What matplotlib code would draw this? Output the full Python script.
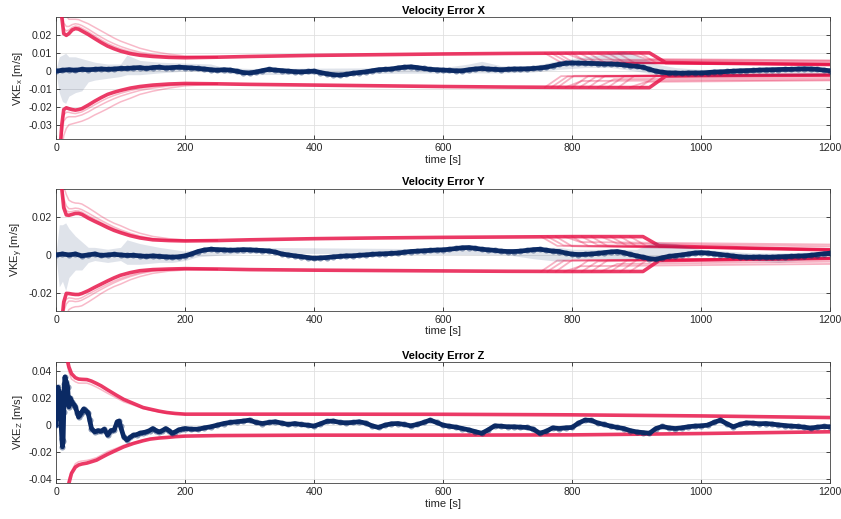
import numpy as np
import matplotlib
matplotlib.use('agg')
import matplotlib.pyplot as plt

plt.rcParams['font.family'] = ['Liberation Sans', 'DejaVu Sans']
plt.rcParams['mathtext.fontset'] = 'custom'
plt.rcParams['mathtext.rm'] = 'Liberation Sans'

NAVY = '#0b2a64'
RED = '#e8174b'

# ---- estimation error (main run trace), 10 s samples ----
t10 = np.arange(0, 1201, 10)

err_x = [0, 0.0005, 0.0008, 0.0005, 0.001, 0.0008, 0.001, 0.0012, 0.001, 0.0012,
         0.0015, 0.0015, 0.0018, 0.002, 0.0015, 0.002, 0.0022, 0.0018, 0.002, 0.0022,
         0.002, 0.0018, 0.0015, 0.0012, 0.0008, 0.0005, 0.0008, 0.0006, 0.0, -0.0008,
         -0.001, -0.0005, 0.0003, 0.001, 0.0006, 0.0003, 0.0, -0.0003, -0.0004, -0.0002,
         0.0, -0.0008, -0.0015, -0.002, -0.0022, -0.0018, -0.0012, -0.0008, -0.0004, 0.0002,
         0.0008, 0.001, 0.0012, 0.0018, 0.0022, 0.0024, 0.002, 0.0015, 0.001, 0.0008,
         0.0006, 0.0004, 0.0002, 0.0002, 0.0008, 0.0012, 0.0015, 0.0012, 0.001, 0.0008,
         0.001, 0.0012, 0.0012, 0.0013, 0.0015, 0.0018, 0.0022, 0.003, 0.0038, 0.0044,
         0.0046, 0.0045, 0.0044, 0.0043, 0.0042, 0.004, 0.004, 0.0038, 0.0035, 0.003,
         0.0027, 0.0022, 0.001, 0.0, -0.0006, -0.001, -0.001, -0.0012, -0.001, -0.001,
         -0.001, -0.0008, -0.0005, -0.0004, -0.0002, 0.0, 0.0002, 0.0003, 0.0004, 0.0006,
         0.0007, 0.0008, 0.0009, 0.001, 0.001, 0.0012, 0.0013, 0.0012, 0.001, 0.0006,
         0.0002]

err_y = [0, 0.0005, 0.0, 0.0005, -0.0005, 0.0, 0.0005, -0.0003, 0.0, 0.0003,
         0.0, -0.0003, -0.0002, -0.0005, -0.0008, -0.0005, -0.0008, -0.001, -0.0012, -0.001,
         -0.0005, 0.0005, 0.0018, 0.0026, 0.003, 0.0028, 0.0027, 0.0025, 0.0026, 0.0028,
         0.0027, 0.0025, 0.0023, 0.0021, 0.0015, 0.0005, 0.0, -0.0005, -0.0009, -0.0014,
         -0.0018, -0.0016, -0.0014, -0.001, -0.0008, -0.0005, -0.0005, -0.0002, 0.0, 0.0003,
         0.0005, 0.0006, 0.0008, 0.001, 0.0014, 0.0018, 0.002, 0.0022, 0.0024, 0.0026,
         0.0027, 0.003, 0.0034, 0.0038, 0.0039, 0.0035, 0.003, 0.0027, 0.0024, 0.002,
         0.0018, 0.0018, 0.002, 0.0024, 0.0028, 0.003, 0.0025, 0.002, 0.0018, 0.001,
         0.0004, 0.0002, 0.0003, 0.0005, 0.0008, 0.0012, 0.0016, 0.0018, 0.0012, 0.0003,
         -0.0005, -0.0012, -0.002, -0.0023, -0.0015, -0.0008, -0.0004, 0.0, 0.0005, 0.001,
         0.0012, 0.001, 0.0006, 0.0002, -0.0002, -0.0006, -0.001, -0.0012, -0.0012, -0.0011,
         -0.0012, -0.0012, -0.001, -0.0009, -0.0008, -0.0006, -0.0005, -0.0002, 0.0002, 0.0006,
         0.0009]

t_z_early = [0, 2, 3, 4, 5, 6, 7, 8, 9, 10, 11, 12, 13, 14, 15, 16, 18, 20, 22, 25,
             28, 30, 33, 35, 38, 40, 43, 45, 48, 50, 52, 55, 60, 65, 70, 75, 80, 85, 90, 95,
             98, 100, 105, 110, 115, 120, 125, 130, 135, 140, 145, 150, 155, 160, 165, 170,
             175, 180, 185, 190, 195]
t_z = np.concatenate([t_z_early, t10[20:]])
err_z = [0, 0.02, 0.028, 0.01, 0.025, 0.005, 0.02, 0.0, -0.01, -0.016,
         -0.012, 0.01, 0.03, 0.0356, 0.03, 0.032, 0.028, 0.0135, 0.02, 0.017,
         0.015, 0.0135, 0.009, 0.006, 0.008, 0.0098, 0.012, 0.011, 0.01, 0.0086,
         0.004, -0.0025, -0.005, -0.004, -0.0045, -0.003, -0.0074, -0.004, -0.0037, 0.0025,
         0.003, -0.001, -0.0086, -0.011, -0.009, -0.0074, -0.007, -0.006, -0.0055, -0.005,
         -0.004, -0.0025, -0.004, -0.005, -0.004, -0.0025, -0.004, -0.006, -0.005, -0.0035,
         -0.003,
         -0.0025, -0.003, -0.003, -0.002, -0.0012, 0.0, 0.0012, 0.002, 0.0025, 0.003,
         0.0037, 0.002, 0.0012, 0.002, 0.0025, 0.0015, 0.0005, 0.0012, 0.0005, 0.0,
         -0.0007, 0.001, 0.0028, 0.003, 0.002, 0.0017, 0.002, 0.0025, 0.0015, -0.0005,
         -0.0017, 0.0, 0.001, 0.0012, 0.0005, -0.0005, 0.0005, 0.002, 0.0037, 0.002,
         0.0, -0.0008, -0.0015, -0.0025, -0.0035, -0.0048, -0.006, -0.0035, -0.0005, -0.0008,
         -0.0012, -0.0012, -0.0015, -0.0017, -0.003, -0.006, -0.0045, -0.002, -0.0025, -0.002,
         -0.0017, 0.0015, 0.0037, 0.0035, 0.0015, 0.0005, -0.0008, -0.0017, -0.0025, -0.004,
         -0.005, -0.0055, -0.006, -0.0025, -0.001, -0.002, -0.0025, -0.002, -0.0012, -0.0007,
         -0.0005, 0.0, 0.002, 0.0037, 0.001, -0.0012, 0.0005, 0.0017, 0.0015, 0.001,
         0.0012, 0.0008, 0.0002, -0.0003, -0.0007, -0.001, -0.0015, -0.0022, -0.0015, -0.001,
         -0.0012]

# ---- spread of the other Monte Carlo runs (faint haze) ----
t_sp_x = [0, 5, 10, 15, 20, 30, 40, 50, 60, 80, 100, 110, 130, 160, 200, 240, 260, 300,
          600, 640, 660, 690, 740, 780, 820, 860, 880, 900, 930, 960, 1000, 1200]
sp_hi_x = [0.001, 0.008, 0.009, 0.01, 0.008, 0.008, 0.007, 0.006, 0.005, 0.004, 0.004,
           0.009, 0.006, 0.005, 0.0045, 0.004, 0.002, 0.0015, 0.002, 0.004, 0.0055, 0.003,
           0.003, 0.006, 0.008, 0.01, 0.011, 0.009, 0.004, 0.002, 0.001, 0.002]
sp_lo_x = [-0.001, -0.012, -0.017, -0.018, -0.014, -0.012, -0.011, -0.006, -0.005, -0.004,
           -0.003, -0.002, -0.002, -0.001, 0.0, -0.0005, -0.001, -0.002, -0.001, -0.001,
           -0.001, -0.001, -0.0005, 0.001, 0.002, 0.002, 0.001, 0.0, -0.002, -0.003, -0.003,
           -0.002]

t_sp_y = [0, 5, 10, 15, 20, 30, 40, 50, 60, 80, 100, 110, 130, 160, 180, 200, 220, 300,
          700, 740, 780, 800, 900, 930, 960, 1000, 1080, 1120, 1200]
sp_hi_y = [0.001, 0.016, 0.016, 0.017, 0.014, 0.01, 0.007, 0.004, 0.004, 0.003, 0.004,
           0.008, 0.006, 0.004, 0.003, 0.002, 0.003, 0.004, 0.003, 0.004, 0.004, 0.003,
           0.003, 0.007, 0.006, 0.003, 0.001, 0.001, 0.002]
sp_lo_y = [-0.001, -0.017, -0.014, -0.019, -0.012, -0.008, -0.008, -0.004, -0.003, -0.004,
           -0.003, -0.005, -0.005, -0.004, -0.004, -0.003, -0.001, 0.001, 0.0, -0.002,
           -0.0035, -0.002, -0.002, -0.003, -0.002, 0.0, -0.003, -0.004, -0.001]

# ---- 3-sigma bounds, main run ----
tb = [0, 3, 6, 9, 12, 16, 20, 25, 30, 35, 40, 50, 60, 70, 80, 90, 100, 115, 130, 150,
      175, 200, 250, 300, 400, 500, 600, 700, 800, 900]
tb_x = tb + [920, 945, 1000, 1100, 1200]
bnd_hi_x = [0.15, 0.08, 0.045, 0.03, 0.021, 0.02, 0.021, 0.023, 0.0238, 0.0235,
            0.0225, 0.0205, 0.0182, 0.016, 0.014, 0.0125, 0.0112, 0.0098, 0.0089, 0.0082,
            0.0077, 0.0075, 0.0078, 0.0082, 0.0088, 0.0092, 0.0096, 0.0099, 0.0101, 0.0102,
            0.0102, 0.0048, 0.0045, 0.0041, 0.0037]
bnd_lo_x = [-0.15, -0.08, -0.045, -0.03, -0.0215, -0.0205, -0.021, -0.0215, -0.0218, -0.0215,
            -0.021, -0.019, -0.0168, -0.0148, -0.013, -0.0118, -0.0108, -0.0095, -0.0086, -0.0078,
            -0.0072, -0.0069, -0.0071, -0.0074, -0.0078, -0.0082, -0.0086, -0.0089, -0.0091, -0.0092,
            -0.0092, -0.0028, -0.0026, -0.0024, -0.0022]

tb_y = tb + [910, 935, 1000, 1100, 1200]
bnd_hi_y = [0.15, 0.08, 0.05, 0.035, 0.025, 0.0212, 0.021, 0.0215, 0.022, 0.022,
            0.0215, 0.0195, 0.0178, 0.0162, 0.0145, 0.013, 0.0118, 0.0102, 0.009, 0.008,
            0.0076, 0.0074, 0.0076, 0.008, 0.0086, 0.009, 0.0093, 0.0095, 0.0097, 0.0097,
            0.0097, 0.0048, 0.0042, 0.0034, 0.0027]
bnd_lo_y = [-0.15, -0.08, -0.05, -0.035, -0.025, -0.0204, -0.0205, -0.0208, -0.021, -0.021,
            -0.0205, -0.019, -0.0172, -0.0155, -0.0138, -0.0122, -0.0108, -0.0094, -0.0084, -0.0078,
            -0.0075, -0.0073, -0.0075, -0.0078, -0.0081, -0.0083, -0.0085, -0.0087, -0.0088, -0.0088,
            -0.0088, -0.003, -0.0027, -0.0023, -0.0019]

tb_z = [0, 6, 12, 16, 20, 24, 30, 35, 40, 48, 55, 63, 70, 80, 94, 105, 120, 135, 146, 160,
        172, 185, 200, 250, 400, 600, 800, 1000, 1200]
bnd_hi_z = [0.2, 0.1, 0.065, 0.052, 0.043, 0.038, 0.035, 0.034, 0.0338, 0.0336,
            0.0325, 0.0307, 0.029, 0.026, 0.022, 0.019, 0.016, 0.013, 0.0118, 0.0103,
            0.0093, 0.0086, 0.0081, 0.0081, 0.0081, 0.008, 0.0076, 0.0068, 0.0056]
bnd_lo_z = [-0.2, -0.1, -0.065, -0.052, -0.043, -0.0356, -0.031, -0.0294, -0.0287, -0.028,
            -0.027, -0.0258, -0.024, -0.0215, -0.0184, -0.016, -0.0135, -0.0115, -0.0103, -0.0095,
            -0.0091, -0.0085, -0.0081, -0.0077, -0.0074, -0.0074, -0.0072, -0.0062, -0.0049]

# ---- 3-sigma bounds of the other runs, first 250 s ----
tb_e = tb[:23]
run_hi_x = [[0.15, 0.082, 0.047, 0.033, 0.024, 0.0225, 0.023, 0.0245, 0.0252, 0.0249, 0.024,
             0.022, 0.0197, 0.0175, 0.0155, 0.0139, 0.0125, 0.0109, 0.0098, 0.0088, 0.0081,
             0.0078, 0.0078],
            [0.15, 0.085, 0.05, 0.036, 0.027, 0.025, 0.025, 0.026, 0.0265, 0.0262, 0.0255,
             0.0235, 0.0212, 0.019, 0.017, 0.0153, 0.0138, 0.012, 0.0106, 0.0094, 0.0085,
             0.008, 0.0079],
            [0.15, 0.09, 0.06, 0.045, 0.035, 0.031, 0.029, 0.029, 0.029, 0.0288, 0.028,
             0.0265, 0.0245, 0.0225, 0.0205, 0.0185, 0.0168, 0.0148, 0.0128, 0.011, 0.0095,
             0.0085, 0.008]]
run_lo_x = [[-0.15, -0.082, -0.047, -0.033, -0.0245, -0.023, -0.023, -0.0235, -0.0237, -0.0233,
             -0.0228, -0.0209, -0.0188, -0.0168, -0.015, -0.0136, -0.0124, -0.0109, -0.0097, -0.0087,
             -0.0078, -0.0072, -0.0072],
            [-0.15, -0.085, -0.05, -0.037, -0.028, -0.026, -0.0255, -0.0255, -0.0255, -0.025,
             -0.0245, -0.0228, -0.0207, -0.0188, -0.017, -0.0154, -0.014, -0.0123, -0.0108, -0.0095,
             -0.0083, -0.0075, -0.0072],
            [-0.15, -0.09, -0.06, -0.045, -0.036, -0.032, -0.03, -0.0295, -0.029, -0.0285,
             -0.028, -0.0265, -0.0245, -0.0228, -0.021, -0.019, -0.0172, -0.0152, -0.013, -0.0112,
             -0.0095, -0.0082, -0.0073]]
run_hi_y = [[0.15, 0.082, 0.052, 0.037, 0.027, 0.0235, 0.0228, 0.023, 0.0234, 0.0233, 0.0227,
             0.0208, 0.019, 0.0172, 0.0155, 0.0139, 0.0125, 0.0108, 0.0095, 0.0083, 0.0078,
             0.0075, 0.0076],
            [0.15, 0.085, 0.055, 0.04, 0.03, 0.026, 0.0245, 0.0245, 0.0248, 0.0246, 0.024,
             0.0222, 0.0202, 0.0183, 0.0165, 0.0148, 0.0133, 0.0115, 0.01, 0.0087, 0.008,
             0.0076, 0.0077],
            [0.15, 0.09, 0.06, 0.045, 0.036, 0.032, 0.029, 0.028, 0.0275, 0.0274, 0.027,
             0.025, 0.0228, 0.0205, 0.0185, 0.0168, 0.0155, 0.0132, 0.0115, 0.0098, 0.0086,
             0.008, 0.0078]]
run_lo_y = [[-0.15, -0.082, -0.052, -0.037, -0.027, -0.0235, -0.0228, -0.023, -0.0234, -0.0233,
             -0.0227, -0.0208, -0.019, -0.0172, -0.0155, -0.0139, -0.0125, -0.0108, -0.0095, -0.0083,
             -0.0078, -0.0075, -0.0076],
            [-0.15, -0.085, -0.055, -0.04, -0.03, -0.026, -0.0245, -0.0245, -0.0248, -0.0246,
             -0.024, -0.0222, -0.0202, -0.0183, -0.0165, -0.0148, -0.0133, -0.0115, -0.01, -0.0087,
             -0.008, -0.0076, -0.0077],
            [-0.15, -0.09, -0.06, -0.045, -0.036, -0.032, -0.029, -0.028, -0.0275, -0.0274,
             -0.027, -0.025, -0.0228, -0.0205, -0.0185, -0.0168, -0.0155, -0.0132, -0.0115, -0.0098,
             -0.0086, -0.008, -0.0078]]
tb_ze = tb_z[:23]
run_hi_z = [[0.2, 0.1, 0.06, 0.047, 0.039, 0.034, 0.032, 0.031, 0.031, 0.031, 0.0298, 0.028,
             0.0262, 0.0235, 0.02, 0.0172, 0.0148, 0.0122, 0.011, 0.0097, 0.0089, 0.0083, 0.008]]
run_lo_z = [[-0.2, -0.1, -0.06, -0.047, -0.039, -0.034, -0.0285, -0.027, -0.0265, -0.026,
             -0.0252, -0.024, -0.0222, -0.0195, -0.017, -0.0148, -0.013, -0.011, -0.0098, -0.0092,
             -0.0088, -0.0083, -0.0079]]

# ---- late runs: bound step-down time and levels (X and Y) ----
late_t_x = [758, 768, 778, 790, 800, 812, 826, 840, 856, 872, 890, 905]
late_pre_hi_x, late_pre_lo_x = 0.0100, -0.0090
late_post_hi_x = [0.0048, 0.005, 0.0046, 0.0065, 0.0048, 0.0052, 0.0047, 0.006, 0.0049, 0.0046, 0.0068, 0.0048]
late_post_lo_x = [-0.0028, -0.003, -0.0026, -0.0055, -0.0028, -0.0032, -0.0027, -0.0045, -0.0029, -0.0026, -0.006, -0.0028]
late_end_hi_x = [0.0037, 0.0039, 0.0036, 0.0058, 0.0037, 0.004, 0.0036, 0.005, 0.0038, 0.0036, 0.006, 0.0037]
late_end_lo_x = [-0.0022, -0.0024, -0.0021, -0.0048, -0.0022, -0.0025, -0.0021, -0.0038, -0.0023, -0.0021, -0.0052, -0.0022]

late_t_y = [752, 762, 775, 788, 800, 815, 830, 845, 860, 875, 890]
late_pre_hi_y, late_pre_lo_y = 0.0097, -0.0088
late_post_hi_y = [0.0048, 0.005, 0.0046, 0.0068, 0.0048, 0.0052, 0.0047, 0.006, 0.0049, 0.0046, 0.0048]
late_post_lo_y = [-0.003, -0.0032, -0.0028, -0.006, -0.003, -0.0034, -0.0029, -0.0048, -0.003, -0.0028, -0.003]
late_end_hi_y = [0.0027, 0.003, 0.0026, 0.0055, 0.0027, 0.003, 0.0026, 0.0045, 0.0028, 0.0026, 0.0027]
late_end_lo_y = [-0.0019, -0.0021, -0.0018, -0.0048, -0.0019, -0.0022, -0.0018, -0.0036, -0.0019, -0.0018, -0.0019]

yt_x = [-0.03, -0.02, -0.01, 0, 0.01, 0.02]
yt_y = [-0.02, 0, 0.02]
yt_z = [-0.04, -0.02, 0, 0.02, 0.04]


def style_axes(ax, title, ylab, ylim, yticks):
    ax.set_xlim(0, 1200)
    ax.set_ylim(*ylim)
    ax.set_xticks([0, 200, 400, 600, 800, 1000, 1200])
    ax.set_yticks(yticks)
    ax.set_yticklabels(['%g' % v for v in yticks])
    ax.grid(True, color='#e0e0e0', lw=0.6)
    ax.set_axisbelow(True)
    ax.tick_params(direction='in', top=True, right=True, length=3, width=0.6,
                   labelsize=7.6, colors='#262626', pad=3)
    for s in ax.spines.values():
        s.set_color('#404040')
        s.set_linewidth(0.6)
    ax.set_title(title, fontsize=8, fontweight='bold', pad=2.5)
    ax.set_xlabel('time [s]', fontsize=8, color='#262626', labelpad=1)
    ax.set_ylabel(ylab, fontsize=8, color='#262626', labelpad=2)


def draw_bounds(ax, t_main, hi, lo, t_e, runs_hi, runs_lo):
    for r in runs_hi + runs_lo:
        ax.plot(t_e, r, color=RED, lw=1.1, alpha=0.3, zorder=2)
    ax.plot(t_main, hi, color=RED, lw=2.6, alpha=0.85, zorder=3)
    ax.plot(t_main, lo, color=RED, lw=2.6, alpha=0.85, zorder=3)


def draw_late(ax, ts, pre_hi, pre_lo, post_hi, post_lo, end_hi, end_lo):
    for i, t0 in enumerate(ts):
        ax.plot([t0, t0 + 25, 1200], [pre_hi, post_hi[i], end_hi[i]], color=RED, lw=1.3, alpha=0.33, zorder=2)
        ax.plot([t0, t0 + 25, 1200], [pre_lo, post_lo[i], end_lo[i]], color=RED, lw=1.3, alpha=0.33, zorder=2)


def draw_error(ax, t, e):
    ax.plot(t, e, color=NAVY, lw=3.4, zorder=5, solid_joinstyle='round')
    ax.plot(t, e, ls='none', marker='o', ms=4.4, color=NAVY, alpha=0.45, mew=0, zorder=5)


fig = plt.figure(figsize=(8.41, 5.19), dpi=100)
ax1 = fig.add_axes([0.0666, 0.732, 0.9204, 0.235])
ax2 = fig.add_axes([0.0666, 0.401, 0.9204, 0.235])
ax3 = fig.add_axes([0.0666, 0.0694, 0.9204, 0.2331])

# X
ax1.fill_between(t_sp_x, sp_lo_x, sp_hi_x, color=NAVY, alpha=0.13, lw=0, zorder=4)
draw_bounds(ax1, tb_x, bnd_hi_x, bnd_lo_x, tb_e, run_hi_x, run_lo_x)
draw_late(ax1, late_t_x, late_pre_hi_x, late_pre_lo_x, late_post_hi_x, late_post_lo_x,
          late_end_hi_x, late_end_lo_x)
draw_error(ax1, t10, err_x)
style_axes(ax1, 'Velocity Error X', r'VKE$_\mathregular{x}$ [m/s]', (-0.038, 0.0302), yt_x)

# Y
ax2.fill_between(t_sp_y, sp_lo_y, sp_hi_y, color=NAVY, alpha=0.13, lw=0, zorder=4)
draw_bounds(ax2, tb_y, bnd_hi_y, bnd_lo_y, tb_e, run_hi_y, run_lo_y)
draw_late(ax2, late_t_y, late_pre_hi_y, late_pre_lo_y, late_post_hi_y, late_post_lo_y,
          late_end_hi_y, late_end_lo_y)
draw_error(ax2, t10, err_y)
style_axes(ax2, 'Velocity Error Y', r'VKE$_\mathregular{y}$ [m/s]', (-0.0297, 0.035), yt_y)

# Z
draw_bounds(ax3, tb_z, bnd_hi_z, bnd_lo_z, tb_ze, run_hi_z, run_lo_z)
draw_error(ax3, t_z, err_z)
style_axes(ax3, 'Velocity Error Z', r'VKE$_\mathregular{Z}$ [m/s]', (-0.0427, 0.0466), yt_z)

fig.savefig('out.png', dpi=100)
